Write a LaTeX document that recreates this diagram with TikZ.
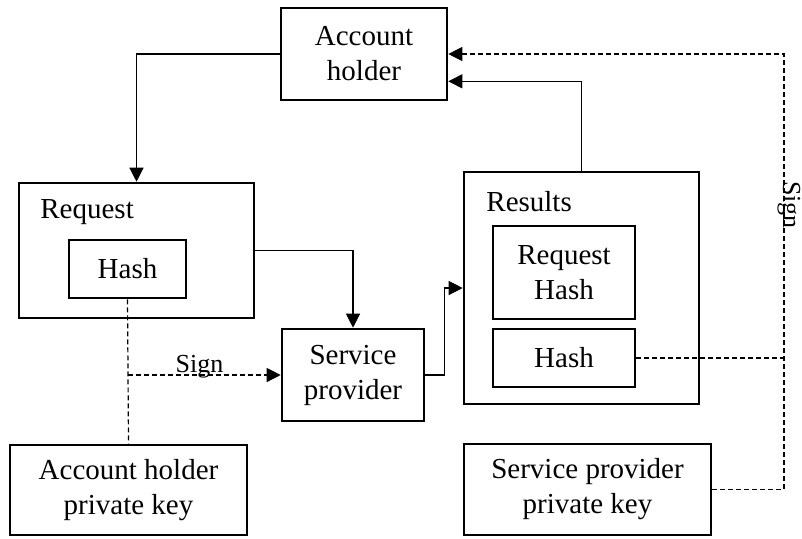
\documentclass[tikz,border=0pt]{standalone}
\usepackage{fontspec}
\setmainfont{Liberation Serif}
\usetikzlibrary{arrows.meta,positioning,calc}
\tikzset{
    box/.style={
        draw=black,line width=1.3pt,align=center,inner sep=0pt,
        font=\fontsize{14.5}{17.5}\selectfont
    },
    tag/.style={
        inner sep=0pt,font=\fontsize{14.5}{17.5}\selectfont
    },
    arrow/.style={
        -{Triangle[length=7pt,width=7pt]},line width=.6pt
    },
    dashline/.style={
        line width=.6pt,dash pattern=on 2.5pt off 1.5pt
    }
}

\begin{document}
\begin{tikzpicture}[x=0.5pt,y=-0.5pt]

\useasboundingbox (0,0) rectangle (802,538);

% top
\node[box,minimum width=83pt,minimum height=46pt]
(holder) at (364,54) {Account\\holder};

% left group
\node[box,minimum width=117.5pt,minimum height=67.5pt]
(request) at (136.5,250.5) {};
\node[tag,anchor=west] (reqtag) at (40,212) {Request};
\node[box,minimum width=58.5pt,minimum height=29pt]
(hashA) at (127.5,269) {Hash};

\node[box,minimum width=71pt,minimum height=46pt]
(sp) at (353,375) {Service\\provider};

% right group
\node[box,minimum width=117.5pt,minimum height=116pt]
(results) at (581.5,288) {};
\node[tag,anchor=west] (restag) at (486,202) {Results};
\node[box,minimum width=71pt,minimum height=46.5pt]
(reqhash) at (564,272.5) {Request\\Hash};
\node[box,minimum width=71pt,minimum height=29pt]
(hashB) at (564,358) {Hash};

% keys
\node[box,minimum width=118.5pt,minimum height=45pt]
(ahkey) at (128.5,490) {Account holder\\private key};
\node[box,minimum width=123.5pt,minimum height=45.5pt]
(spkey) at (587.5,489.5) {Service provider\\private key};

\coordinate (signx) at (784,0);

% solid flow
\draw[arrow] (holder.west) -| (request.north);
\draw[arrow] (request.east) -| (sp.north);
\draw[arrow] (sp.east) -- ++(19,0) |- (results.west);
\draw[arrow] (results.north) |- ($(holder.south east)+(0,-20)$);

% signing
\draw[dashline] (hashA.south) -- (ahkey.north);
\draw[dashline,-{Triangle[length=7pt,width=7pt]}]
(hashA.south |- sp.west) -- (sp.west)
node[tag,anchor=base,pos=.47,yshift=1.5pt,font=\fontsize{13}{15}\selectfont] (signA) {Sign};

\draw[dashline] (hashB.east) -- (signx |- hashB.east);
\draw[dashline,-{Triangle[length=7pt,width=7pt]}]
(spkey.east) -| (signx |- holder.east) -- (holder.east);
\node[tag,rotate=-90,font=\fontsize{13}{15}\selectfont]
(signB) at (789,205) {Sign};

\end{tikzpicture}
\end{document}
